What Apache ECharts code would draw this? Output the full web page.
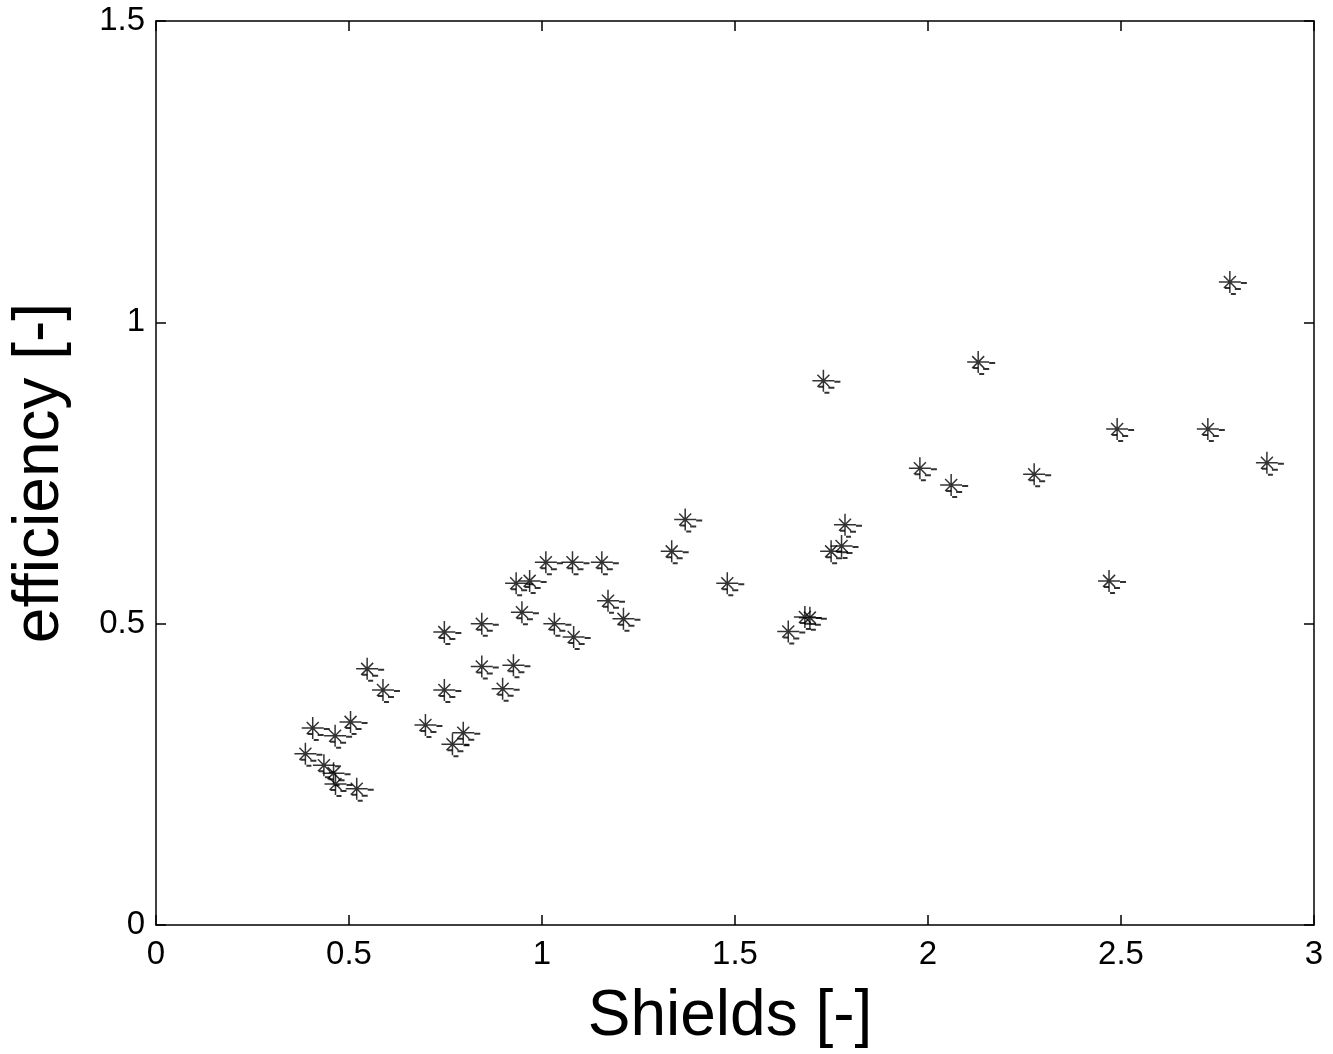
<!DOCTYPE html>
<html>
<head>
<meta charset="utf-8">
<script src="https://cdn.jsdelivr.net/npm/echarts@6/dist/echarts.min.js"></script>
<style>
  html, body { margin: 0; padding: 0; background: #fff; }
  #chart { width: 1333px; height: 1054px; }
</style>
</head>
<body>
<div id="chart"></div>
<script>
// Shields parameter (x) and measured efficiency (y)
const shields = [
  0.387, 0.406, 0.435, 0.460, 0.464, 0.465, 0.504, 0.520, 0.547, 0.588,
  0.698, 0.747, 0.747, 0.768, 0.796, 0.844, 0.844, 0.898, 0.926, 0.933,
  0.948, 0.968, 1.010, 1.032, 1.079, 1.082, 1.155, 1.171, 1.211, 1.336,
  1.371, 1.480, 1.638, 1.681, 1.694, 1.729, 1.749, 1.776, 1.785, 1.979,
  2.060, 2.130, 2.275, 2.469, 2.490, 2.725, 2.782, 2.878
];
const efficiency = [
  0.284, 0.327, 0.265, 0.252, 0.314, 0.234, 0.337, 0.226, 0.425, 0.390,
  0.332, 0.486, 0.390, 0.300, 0.319, 0.500, 0.429, 0.392, 0.431, 0.567,
  0.519, 0.571, 0.602, 0.500, 0.602, 0.478, 0.602, 0.538, 0.508, 0.620,
  0.673, 0.567, 0.487, 0.511, 0.510, 0.903, 0.620, 0.629, 0.664, 0.758,
  0.730, 0.934, 0.748, 0.571, 0.823, 0.823, 1.067, 0.767
];
const xTicks = [0, 0.5, 1, 1.5, 2, 2.5, 3];
const yTicks = [0, 0.5, 1, 1.5];

const points = shields.map((x, i) => [x, efficiency[i]]);

// asterisk marker drawn as four strokes through the centre
const asteriskPath = 'path://M0 11 L22 11 M11 0 L11 22 M5 5 L17 17 M17 5 L5 17';
// small trailing dashes that accompany each marker
const dashPath = 'path://M16 0 H22 V2 H16 Z M10 6 H16 V8 H10 Z M0 5 H5 V7 H0 Z M6 11 H11 V13 H6 Z';

const font = 'Arial, "Liberation Sans", sans-serif';
const fmt = v => String(v);

function axisBase() {
  return {
    type: 'value',
    interval: 0.5,
    splitLine: { show: false },
    axisLine: { show: true, onZero: false, lineStyle: { color: '#000', width: 1.5 } },
    axisTick: { show: true, inside: true, length: 10, lineStyle: { color: '#000', width: 1.5 } }
  };
}

const chart = echarts.init(document.getElementById('chart'), null, { renderer: 'canvas' });
chart.setOption({
  backgroundColor: '#fff',
  animation: false,
  grid: { left: 156, right: 19, top: 21, bottom: 127, containLabel: false },
  xAxis: [
    Object.assign(axisBase(), {
      min: xTicks[0], max: xTicks[xTicks.length - 1], position: 'bottom',
      name: 'Shields [-]', nameLocation: 'middle', nameGap: 60,
      nameTextStyle: { fontFamily: font, fontSize: 64, color: '#000', padding: [0, 10, 0, 0] },
      axisLabel: { fontFamily: font, fontSize: 33, color: '#000', margin: 13, formatter: fmt }
    }),
    Object.assign(axisBase(), {
      min: xTicks[0], max: xTicks[xTicks.length - 1], position: 'top',
      axisLabel: { show: false }
    })
  ],
  yAxis: [
    Object.assign(axisBase(), {
      min: yTicks[0], max: yTicks[yTicks.length - 1], position: 'left',
      name: 'efficiency [-]', nameLocation: 'middle', nameGap: 84,
      nameTextStyle: { fontFamily: font, fontSize: 64, color: '#000' },
      axisLabel: { fontFamily: font, fontSize: 33, color: '#000', margin: 11, formatter: fmt }
    }),
    Object.assign(axisBase(), {
      min: yTicks[0], max: yTicks[yTicks.length - 1], position: 'right',
      axisLabel: { show: false }
    })
  ],
  series: [
    {
      type: 'scatter',
      data: points,
      symbol: dashPath,
      symbolSize: [22, 13],
      symbolOffset: [6, 6.5],
      itemStyle: { color: '#000', borderWidth: 0 },
      silent: true
    },
    {
      type: 'scatter',
      data: points,
      symbol: asteriskPath,
      symbolSize: 22,
      itemStyle: { color: 'rgba(0,0,0,0)', borderColor: '#000', borderWidth: 1.5 },
      silent: true
    }
  ]
});
</script>
</body>
</html>
